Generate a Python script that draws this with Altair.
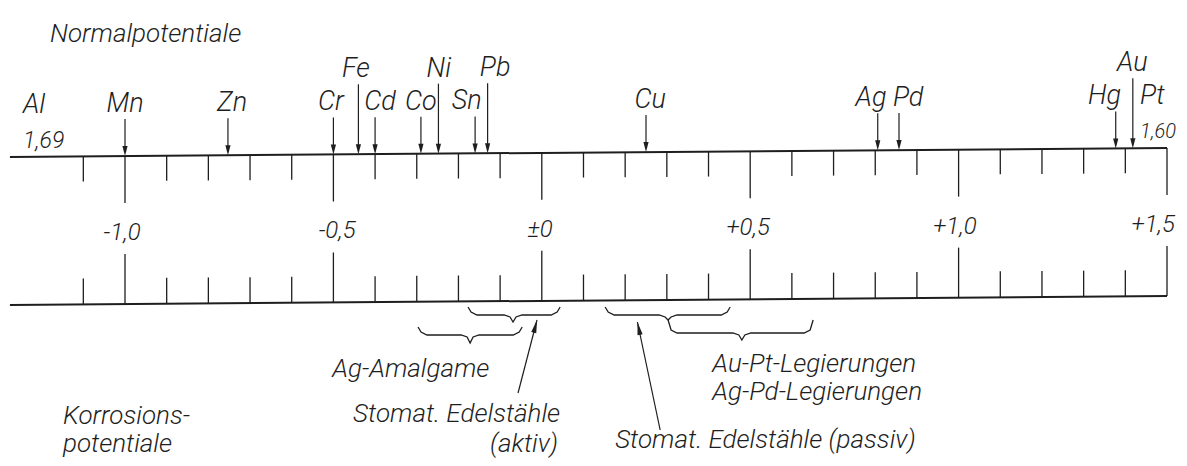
import math
import altair as alt
import numpy as np
import pandas as pd

# ---------------- values ----------------
# element markers on the "Normalpotentiale" scale (volts, as drawn)
elements = ["Mn", "Zn", "Cr", "Fe", "Cd", "Co", "Ni", "Sn", "Pb", "Cu", "Ag", "Pd", "Hg", "Au"]
normal_potential = [-1.0, -0.753, -0.50, -0.44, -0.40, -0.29, -0.248, -0.16, -0.13,
                    0.25, 0.806, 0.857, 1.377, 1.418]
label_at = [-1.0, -0.743, -0.506, -0.446, -0.388, -0.29, -0.247, -0.18, -0.112,
            0.26, 0.79, 0.879, 1.35, 1.417]
label_row = ["low", "low", "low", "high", "low", "low", "high", "low", "high",
             "low", "low", "low", "low", "high"]

# off-scale end members
end_elements = ["Al", "Pt"]
end_values = ["1,69", "1,60"]
end_at = [-1.245, 1.435]

# scale
scale_start, scale_end = -1.276, 1.5
minor_ticks = [round(v / 10, 1) for v in range(-11, 16)]
major_at = [-1.0, -0.5, 0.0, 0.5, 1.0, 1.5]
major_labels = ["-1,0", "-0,5", "±0", "+0,5", "+1,0", "+1,5"]
major_label_at = [-1.007, -0.491, -0.004, 0.495, 0.991, 1.467]

# braces for corrosion-potential ranges
brace_name = ["Edelstahl aktiv", "Ag-Amalgame", "Edelstahl passiv", "Au-Pt / Ag-Pd"]
brace_from = [-0.177, -0.297, 0.152, 0.303]
brace_to = [0.044, -0.047, 0.452, 0.651]
brace_tip = [-0.069, -0.172, 0.303, 0.480]
brace_top = [307, 327, 307, 320]
brace_bar = [315, 335, 315, 333]
brace_point = [322, 343, 320, 340]

# pointer arrows (aktiv, passiv)
arrow_from_x = [-0.057, 0.284]
arrow_from_y = [393, 430]
arrow_to_x = [-0.0115, 0.2294]
arrow_to_y = [320, 322]

# annotations
ann_left_text = ["Normalpotentiale", "Korrosions-", "potentiale", "Ag-Amalgame",
                 "Au-Pt-Legierungen", "Ag-Pd-Legierungen", "Stomat. Edelstähle (passiv)"]
ann_left_x = [-1.180, -1.149, -1.149, -0.503, 0.409, 0.409, 0.176]
ann_left_y = [42, 424, 452, 377, 372, 400, 448]
ann_right_text = ["Stomat. Edelstähle", "(aktiv)"]
ann_right_x = [0.044, 0.039]
ann_right_y = [422, 452]

# ---------------- layout ----------------
W, H = 1171, 450
XD = [-1.28071, 1.52879]
XS = alt.Scale(domain=XD, nice=False, zero=False)
YS = alt.Scale(domain=[8, 8 + H], nice=False, zero=False, reverse=True)
PX = W / (XD[1] - XD[0])

UP_L, UP_R = 157, 148      # upper line ends (slightly tilted scan)
LO_L, LO_R = 305, 296      # lower line ends


def upper_y(v):
    return UP_L + (v - scale_start) / (scale_end - scale_start) * (UP_R - UP_L)


def lower_y(v):
    return LO_L + (v - scale_start) / (scale_end - scale_start) * (LO_R - LO_L)


def X(f="x"):
    return alt.X(f"{f}:Q", scale=XS, axis=None)


def Y(f="y"):
    return alt.Y(f"{f}:Q", scale=YS, axis=None)


INK = "#1e1e1e"
FONT = "Roboto"
txt = dict(font=FONT, fontStyle="italic", fontWeight=300, color=INK, baseline="alphabetic")
FS = 27
FS_ANN = 26

# main lines
lines = pd.DataFrame({
    "x": [scale_start, scale_start], "x2": [scale_end, scale_end],
    "y": [upper_y(scale_start), lower_y(scale_start)],
    "y2": [upper_y(scale_end), lower_y(scale_end)],
})
main = alt.Chart(lines).mark_rule(strokeWidth=2, color=INK).encode(
    x=X(), x2="x2:Q", y=Y(), y2="y2:Q")

# ticks
rows = []
for v in minor_ticks:
    major = any(abs(v - m) < 1e-9 for m in major_at)
    rows.append({"x": v, "y": upper_y(v), "y2": upper_y(v) + (47 if major else 25)})
    rows.append({"x": v, "y": lower_y(v), "y2": lower_y(v) - (50 if major else 26)})
ticks = alt.Chart(pd.DataFrame(rows)).mark_rule(strokeWidth=1.3, color=INK).encode(
    x=X(), y=Y(), y2="y2:Q")

tick_lab = pd.DataFrame({"x": major_label_at, "t": major_labels})
tick_lab["y"] = [(upper_y(v) + 84) for v in major_at]
tick_text = alt.Chart(tick_lab).mark_text(fontSize=24, align="center", **txt).encode(
    x=X(), y=Y(), text="t:N")

# element arrows + labels
el = pd.DataFrame({"el": elements, "x": normal_potential, "lx": label_at, "row": label_row})
el["tip"] = [upper_y(v) for v in el["x"]]
el["top"] = [upper_y(v) - (37 if r == "low" else 70) for v, r in zip(el["x"], el["row"])]
el["ly"] = [upper_y(v) - (44 if r == "low" else 77) for v, r in zip(el["x"], el["row"])]
el["shaft_end"] = el["tip"] - 4

shafts = alt.Chart(el).mark_rule(strokeWidth=1.2, color=INK).encode(
    x=X(), y=Y("top"), y2="shaft_end:Q")
DOWN_HEAD = "M-1.3,-5L1.3,-5L0,0Z"
heads = alt.Chart(el).mark_point(shape=DOWN_HEAD, size=16, filled=True, opacity=1,
                                 color=INK).encode(x=X(), y=Y("tip"))
el_text = alt.Chart(el).mark_text(fontSize=FS, align="center", **txt).encode(
    x=X("lx"), y=Y("ly"), text="el:N")

end_names = pd.DataFrame({"x": end_at, "t": end_elements})
end_names["y"] = [upper_y(v) - 44 for v in end_at]
end_text = alt.Chart(end_names).mark_text(fontSize=FS, align="left", **txt).encode(
    x=X(), y=Y(), text="t:N")
left_num = pd.DataFrame({"x": end_at[:1], "t": end_values[:1]})
left_num["y"] = [upper_y(v) - 9 for v in end_at[:1]]
right_num = pd.DataFrame({"x": end_at[1:], "t": end_values[1:]})
right_num["y"] = [upper_y(v) - 10 for v in end_at[1:]]
left_num_text = alt.Chart(left_num).mark_text(fontSize=23, align="left", **txt).encode(
    x=X(), y=Y(), text="t:N")
right_num_text = alt.Chart(right_num).mark_text(fontSize=20, align="left", **txt).encode(
    x=X(), y=Y(), text="t:N")

# braces
brows = []
for name, a, b, tip, top, bar, pt in zip(brace_name, brace_from, brace_to, brace_tip,
                                         brace_top, brace_bar, brace_point):
    d1, d2 = 3 / PX, 9 / PX
    pts = [(a, top), (a + d1, bar - 3), (a + d2, bar), (tip - d2, bar), (tip - d1, bar + 2),
           (tip, pt), (tip + d1, bar + 2), (tip + d2, bar), (b - d2, bar), (b - d1, bar - 3),
           (b, top)]
    for i, (x, y) in enumerate(pts):
        brows.append({"brace": name, "i": i, "x": x, "y": y})
braces = alt.Chart(pd.DataFrame(brows)).mark_line(strokeWidth=1.3, color=INK).encode(
    x=X(), y=Y(), detail="brace:N", order="i:Q")

# pointer arrows
arr = pd.DataFrame({"x": arrow_from_x, "y": arrow_from_y, "x2": arrow_to_x, "y2": arrow_to_y})
arr["angle"] = [
    math.degrees(math.atan2((tx - fx) * PX, -(ty - fy))) % 360
    for fx, fy, tx, ty in zip(arrow_from_x, arrow_from_y, arrow_to_x, arrow_to_y)
]
arr_lines = alt.Chart(arr).mark_rule(strokeWidth=1.2, color=INK).encode(
    x=X(), y=Y(), x2="x2:Q", y2="y2:Q")
UP_HEAD = "M-1.3,6.5L1.3,6.5L0,0Z"
arr_heads = alt.Chart(arr).mark_point(shape=UP_HEAD, size=16, filled=True, opacity=1,
                                      color=INK).encode(
    x=X("x2"), y=Y("y2"), angle=alt.Angle("angle:Q", scale=None))

# annotations
annl = pd.DataFrame({"x": ann_left_x, "y": ann_left_y, "t": ann_left_text})
annr = pd.DataFrame({"x": ann_right_x, "y": ann_right_y, "t": ann_right_text})
ann_l = alt.Chart(annl).mark_text(fontSize=FS_ANN, align="left", **txt).encode(
    x=X(), y=Y(), text="t:N")
ann_r = alt.Chart(annr).mark_text(fontSize=FS_ANN, align="right", **txt).encode(
    x=X(), y=Y(), text="t:N")

chart = alt.layer(
    main, ticks, tick_text, shafts, heads, el_text, end_text, left_num_text,
    right_num_text, braces, arr_lines, arr_heads, ann_l, ann_r
).properties(
    width=W, height=H, padding=0, autosize="none", background="white"
).configure_view(stroke=None)

chart.save("out.html", embed_options={"renderer": "svg", "actions": False})
